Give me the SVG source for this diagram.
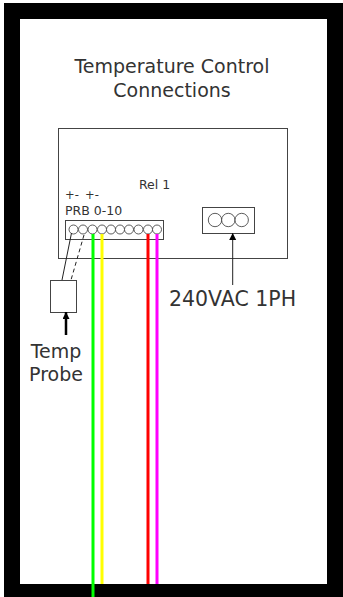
<svg xmlns="http://www.w3.org/2000/svg" width="343" height="597" viewBox="0 0 343 597">
<style>
text{font-family:"DejaVu Sans","Noto Sans",sans-serif;fill:#333}
.t{font-size:19px;text-anchor:middle}
.s{font-size:12.500px}
.p{font-size:11.500px}
.box{fill:#fff;stroke:#444;stroke-width:1}
.c{fill:#fff;stroke:#333;stroke-width:.8}
.w{fill:none;stroke-width:3}
.a{fill:none;stroke:#222;stroke-width:1}
</style>
<defs>
<marker id="h" markerWidth="8" markerHeight="8" refX="7" refY="3.500" orient="auto" markerUnits="userSpaceOnUse"><path d="M0 0L7 3.500L0 7z" fill="#000"/></marker>
</defs>
<rect id="background" width="343" height="597" fill="#fff"/>
<g id="frame">
<rect x="12" y="11" width="323" height="581" fill="none" stroke="#000" stroke-width="16"/>
</g>
<g id="title"><text class="t" x="172" y="73">Temperature Control</text><text class="t" x="172" y="97">Connections</text></g>
<g id="controller"><rect class="box" x="58.500" y="128.500" width="229" height="130"/>
<text class="s" x="139" y="189">Rel 1</text><text class="p" x="65" y="199">+-</text><text class="p" x="85" y="199">+-</text><text class="s" x="65" y="215">PRB 0-10</text></g>
<g id="terminal-strip"><rect class="box" x="65.500" y="220.500" width="98" height="19"/>
<g id="terminals">
<circle class="c" cx="73.500" cy="229.500" r="4.500"/><circle class="c" cx="83" cy="229.500" r="4.500"/><circle class="c" cx="92.500" cy="229.500" r="4.500"/><circle class="c" cx="102" cy="229.500" r="4.500"/><circle class="c" cx="111" cy="229.500" r="4.500"/><circle class="c" cx="120" cy="229.500" r="4.500"/><circle class="c" cx="129" cy="229.500" r="4.500"/><circle class="c" cx="138.500" cy="229.500" r="4.500"/><circle class="c" cx="148" cy="229.500" r="4.500"/><circle class="c" cx="157" cy="229.500" r="4.500"/>
</g></g>
<g id="power-terminal"><rect class="box" x="202.500" y="207.500" width="52" height="26"/>
<circle class="c" cx="215" cy="220" r="6.700"/><circle class="c" cx="228.300" cy="220" r="6.700"/><circle class="c" cx="241.700" cy="220" r="6.700"/></g>
<g id="probe"><rect class="box" x="50.500" y="280.500" width="26" height="32"/>
<text class="t" x="56" y="358">Temp</text><text class="t" x="56" y="381">Probe</text></g>
<g id="power-label"><text class="t" style="font-size:20.500px" x="232.500" y="306">240VAC 1PH</text></g>
<g id="connectors">
<path class="w" stroke="#00ff00" d="M93 234V597"/>
<path class="w" stroke="#ffff00" d="M102 234V584"/>
<path class="w" stroke="#ff0000" d="M148 234V584"/>
<path class="w" stroke="#ff00ff" d="M157 234V584"/>
<path class="a" d="M71.500 233L62 280"/>
<path class="a" stroke-dasharray="4 3" d="M84 235L71 280"/>
<path class="a" marker-end="url(#h)" d="M232.700 285V233"/>
<path d="M66 335V312" fill="none" stroke="#000" stroke-width="2.500" marker-end="url(#h)"/>
</g>
</svg>
